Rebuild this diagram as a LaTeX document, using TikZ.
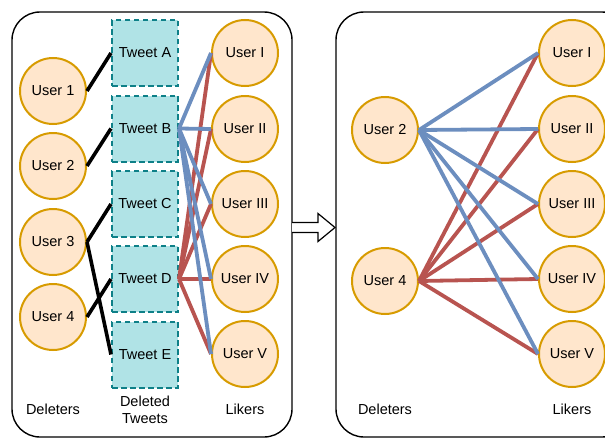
\documentclass[tikz,border=0pt]{standalone}
\usepackage{fontspec}
\setmainfont{Liberation Sans}
\definecolor{ufill}{HTML}{FFE6CC}
\definecolor{uborder}{HTML}{D79B00}
\definecolor{tfill}{HTML}{B0E3E6}
\definecolor{tborder}{HTML}{0E8088}
\definecolor{eblue}{HTML}{6C8EBF}
\definecolor{ered}{HTML}{B85450}
\begin{document}
\begin{tikzpicture}[x=1pt,y=-1pt,
  user/.style={circle, draw=uborder, fill=ufill, line width=2pt, minimum size=66pt, inner sep=0pt, font=\fontsize{14.5}{17}\selectfont},
  tweet/.style={rectangle, draw=tborder, fill=tfill, dash pattern=on 5.5pt off 3.5pt, line width=2pt, minimum width=66pt, minimum height=66pt, inner sep=0pt, font=\fontsize{14.5}{17}\selectfont},
  lbl/.style={font=\fontsize{14.5}{17}\selectfont, align=center, inner sep=0pt},
  panel/.style={draw=black, line width=1.4pt, rounded corners=28pt},
  blk/.style={draw=black, line width=3.6pt},
  bl/.style={draw=eblue, line width=3.8pt},
  rd/.style={draw=ered, line width=3.8pt}]
\useasboundingbox (0,0) rectangle (605,439);
\clip (0,0) rectangle (605,439);
% panels
\draw[panel] (12,12) rectangle (292,437);
\draw[panel] (336,12) rectangle (630,437);
% arrow between panels
\draw[line width=1.2pt, fill=white] (292,222.5) -- (318,222.5) -- (318,213.5) -- (335,227.5) -- (318,241.5) -- (318,232.5) -- (292,232.5);
% left panel nodes
\node[user] (d1) at (53,91) {User 1};
\node[user] (d2) at (53,166) {User 2};
\node[user] (d3) at (53,242) {User 3};
\node[user] (d4) at (53,317) {User 4};
\node[tweet] (tA) at (145,53) {Tweet A};
\node[tweet] (tB) at (145,128.5) {Tweet B};
\node[tweet] (tC) at (145,204) {Tweet C};
\node[tweet] (tD) at (145,279) {Tweet D};
\node[tweet] (tE) at (145,354.5) {Tweet E};
\node[user] (l1) at (245,53) {User I};
\node[user] (l2) at (245,129) {User II};
\node[user] (l3) at (245,204) {User III};
\node[user] (l4) at (245,279) {User IV};
\node[user] (l5) at (245,354) {User V};
% black edges
\draw[blk] (d1.east) -- (tA.west);
\draw[blk] (d2.east) -- (tB.west);
\draw[blk] (d3.east) -- (tC.west);
\draw[blk] (d3.east) -- (tE.west);
\draw[blk] (d4.east) -- (tD.west);
% red and blue edges left
\foreach \t in {l1,l2,l3,l4,l5} \draw[rd] (tD.east) -- (\t.west);
\foreach \t in {l1,l2,l3,l4,l5} \draw[bl] (tB.east) -- (\t.west);
% labels left
\node[lbl] (ldel) at (53,409) {Deleters};
\node[lbl] (ltw) at (145,409.5) {Deleted\\Tweets};
\node[lbl] (llik) at (245,409) {Likers};
% right panel nodes
\node[user] (r2) at (385,130) {User 2};
\node[user] (r4) at (385,281) {User 4};
\node[user] (m1) at (572,53) {User I};
\node[user] (m2) at (572,129) {User II};
\node[user] (m3) at (572,204) {User III};
\node[user] (m4) at (572,279) {User IV};
\node[user] (m5) at (572,354) {User V};
\foreach \t in {m1,m2,m3,m4,m5} \draw[rd] (r4.east) -- (\t.west);
\foreach \t in {m1,m2,m3,m4,m5} \draw[bl] (r2.east) -- (\t.west);
\node[lbl] (rdel) at (385,409) {Deleters};
\node[lbl] (rlik) at (572,409) {Likers};
\end{tikzpicture}
\end{document}
